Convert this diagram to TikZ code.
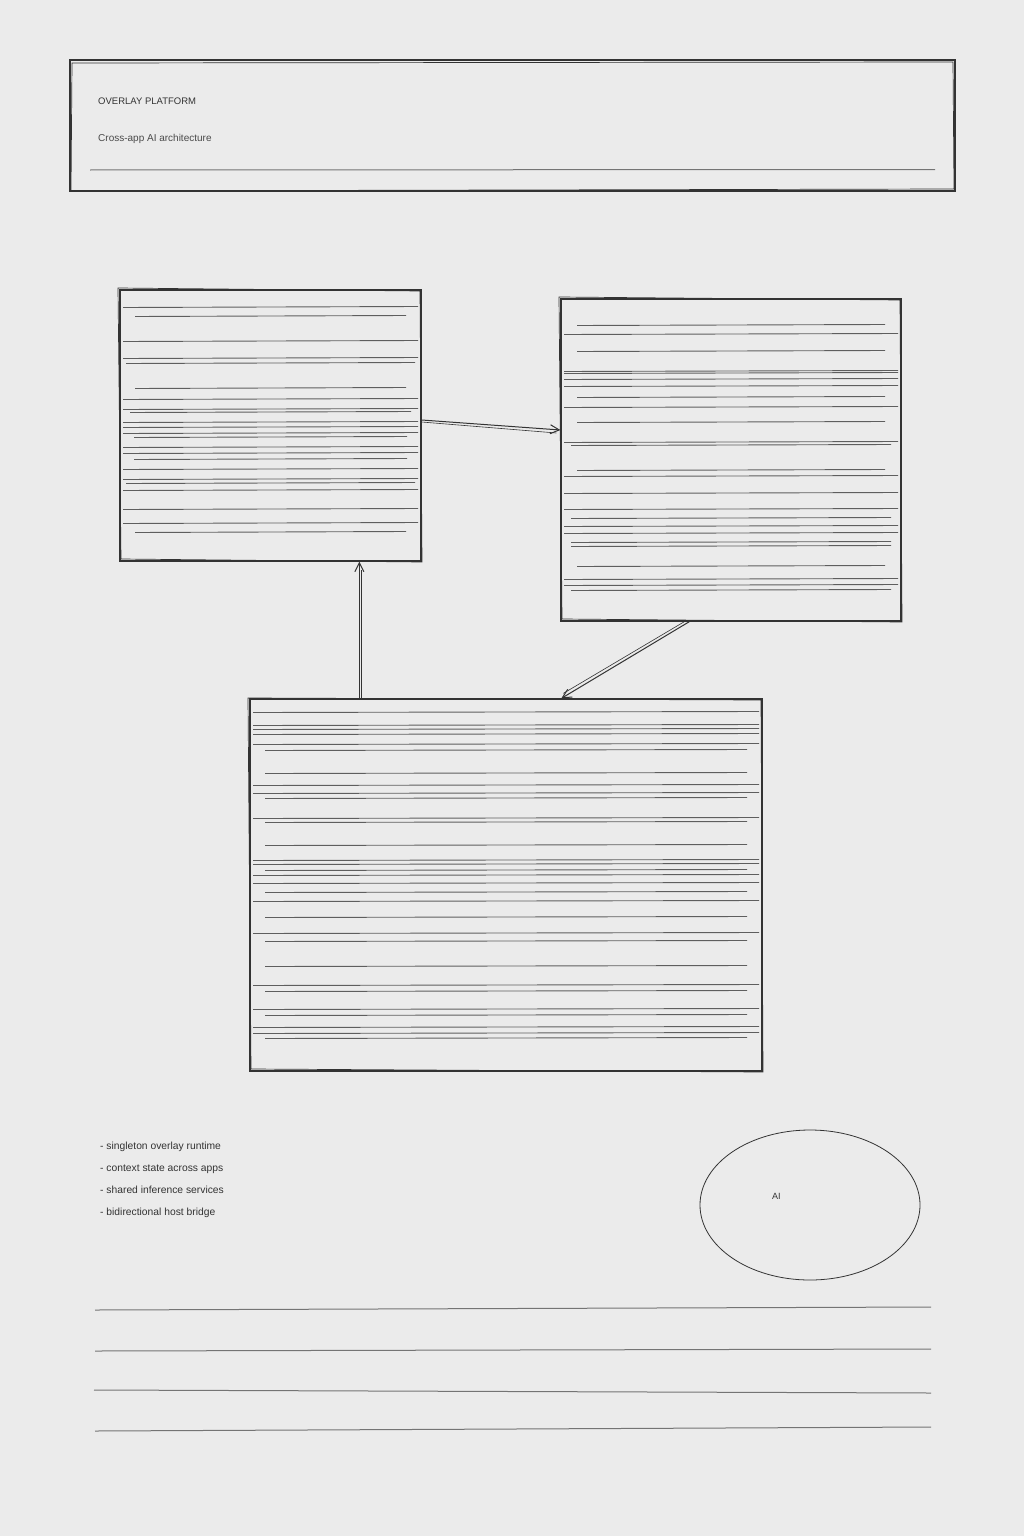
\documentclass[tikz,border=0pt]{standalone}
\usepackage{fontspec}
\setmainfont{Liberation Sans}
\usetikzlibrary{arrows.meta,calc,shapes.geometric}
\definecolor{bg}{HTML}{EBEBEB}
\definecolor{ink}{HTML}{333333}
\definecolor{hatchc}{HTML}{5E5E5E}
\definecolor{rulec}{HTML}{747474}
\definecolor{txtc}{HTML}{333333}
\definecolor{subc}{HTML}{4A4A4A}
\newcommand\hatchbox[3]{\foreach \yy/\ii in {#3} {\draw[hatch] (#1+\ii,\yy+0.5) -- (#2-\ii,\yy-0.5);}}
\begin{document}
\begin{tikzpicture}[x=1pt,y=-1pt,
  sketchbox/.style={draw=ink, line width=1.3pt, inner sep=0pt},
  sketchline/.style={draw=ink, line width=0.7pt},
  hatch/.style={draw=hatchc, line width=0.9pt},
  conn/.style={draw=ink, line width=1pt, -{Straight Barb[length=9pt,width=9pt]}},
  connb/.style={draw=ink, line width=0.6pt},
  titletxt/.style={anchor=base west, inner sep=0pt, text=txtc, font=\fontsize{9.5}{11}\selectfont},
  subtxt/.style={anchor=base west, inner sep=0pt, text=subc, font=\fontsize{10}{12}\selectfont},
  bullettxt/.style={anchor=base west, inner sep=0pt, text=txtc, font=\fontsize{10.3}{12}\selectfont},
  aitxt/.style={anchor=base west, inner sep=0pt, text=txtc, font=\fontsize{9}{11}\selectfont},
  rule/.style={draw=rulec, line width=1pt}]
\fill[bg] (0,0) rectangle (1024,1536);
\useasboundingbox (0,0) rectangle (1024,1536);

% header
\node[sketchbox, minimum width=885pt, minimum height=131pt] (H) at (512.5,125.5) {};
\draw[sketchline] (72,63) -- (953,62) -- (954,189) -- (71,191) -- cycle;
\node[titletxt] (t1) at (98,104.5) {OVERLAY PLATFORM};
\node[subtxt] (t2) at (98,141.5) {Cross-app AI architecture};
\draw[rule] (90,170) -- (935,169.5);

% boxes
\node[sketchbox, minimum width=301pt, minimum height=271pt] (A) at (270.5,425.5) {};
\draw[sketchline] (118,288) -- (420,291) -- (422,562) -- (121,559) -- cycle;
\hatchbox{120}{421}{307/3,316/15,341/3,358/3,363/6,388/15,399/3,409/3,412/10,422/3,427/3,433/3,437/14,447/3,453/3,459/14,469/3,479/3,483/6,490/3,509/3,523/3,532/15}

\node[sketchbox, minimum width=340pt, minimum height=322pt] (B) at (731,460) {};
\draw[sketchline] (559,297) -- (900,300) -- (902,622) -- (562,619) -- cycle;
\hatchbox{561}{901}{325/16,334/3,351/16,371/3,373/3,379/3,386/3,397/16,407/3,422/16,442/3,445/10,470/16,476/3,493/3,509/3,518/10,526/3,533/3,542/10,546/10,566/16,579/3,585/3,590/10}

\node[sketchbox, minimum width=512pt, minimum height=372pt] (C) at (506,885) {};
\draw[sketchline] (248,698) -- (761,700) -- (763,1072) -- (251,1069) -- cycle;
\hatchbox{250}{762}{712/3,725/3,729/3,734/3,744/3,750/15,773/15,785/3,793/3,798/15,818/3,822/15,845/15,860/3,864/3,870/15,875/3,883/3,892/15,901/3,917/15,933/3,941/15,966/15,985/3,991/15,1009/3,1015/15,1027/3,1033/3,1038/15}

% connectors
\draw[conn] ($(A.east)+(0,-5.5)$) -- ($(B.west)+(0,-30)$);
\draw[connb] ($(A.east)+(0,-3.5)$) -- ($(B.west)+(-4,-27)$);
\draw[conn] ($(C.north west)+(110,0)$) -- ($(A.south west)+(240,0)$);
\draw[connb] ($(C.north west)+(112,0)$) -- ($(A.south west)+(242,8)$);
\draw[conn] ($(B.south west)+(129,0)$) -- ($(C.north west)+(312,0)$);
\draw[connb] ($(B.south west)+(124,0)$) -- ($(C.north west)+(314,-5)$);

% notes
\node[bullettxt] (n1) at (100,1149.5) {- singleton overlay runtime};
\node[bullettxt] (n2) at (100,1171.5) {- context state across apps};
\node[bullettxt] (n3) at (100,1193.5) {- shared inference services};
\node[bullettxt] (n4) at (100,1215.5) {- bidirectional host bridge};

% AI ellipse
\node[draw=ink, line width=0.8pt, ellipse, minimum width=220pt, minimum height=150pt, inner sep=0pt] (E) at (810,1205) {};
\node[aitxt] (ai) at (772,1199.5) {AI};

% bottom rules
\draw[rule] (95,1310) -- (931,1307);
\draw[rule] (95,1351) -- (931,1349);
\draw[rule] (94,1390) -- (931,1393);
\draw[rule] (95,1431) -- (931,1427);
\end{tikzpicture}
\end{document}
